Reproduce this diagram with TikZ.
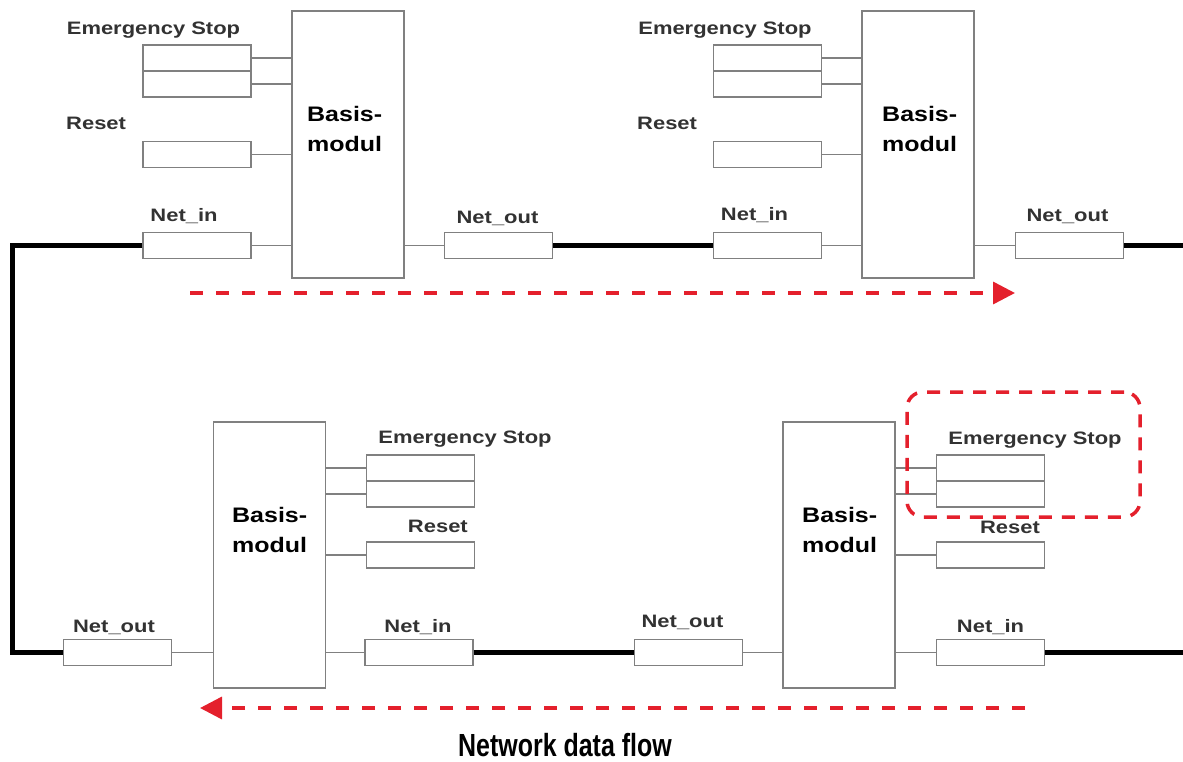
\documentclass[tikz,border=0pt]{standalone}
\usepackage{fontspec}
\usepackage{graphicx}
\setmainfont{Liberation Sans}
\usetikzlibrary{arrows.meta}
\definecolor{boxgray}{RGB}{128,128,128}
\definecolor{labelgray}{RGB}{50,50,50}
\definecolor{flowred}{RGB}{228,32,44}
\newcommand{\lblw}[1]{\scalebox{1.22}[1]{#1}}
\newcommand{\baw}[1]{\scalebox{1.19}[1]{#1}}
\begin{document}
\begin{tikzpicture}[x=1pt,y=-1pt,
  iobox/.style={draw=boxgray, line width=1.5pt, minimum width=108pt, minimum height=26pt, inner sep=0pt},
  basisbox/.style={draw=boxgray, line width=1.5pt, minimum width=112pt, minimum height=267pt, inner sep=0pt},
  lbl/.style={inner sep=0pt, anchor=base, text=labelgray, font=\fontsize{18}{22}\selectfont\bfseries},
  btxt/.style={inner sep=0pt, anchor=base west, font=\fontsize{21}{25}\selectfont\bfseries},
  wire/.style={draw=boxgray, line width=1.5pt},
  bus/.style={draw=black, line width=5pt, line join=miter},
  flow/.style={draw=flowred, line width=3.5pt, dash pattern=on 13pt off 13pt, -{Triangle[length=22pt,width=22pt]}},
  hilite/.style={draw=flowred, line width=3.5pt, dash pattern=on 13pt off 10pt, rounded corners=16pt, inner sep=0pt}
]
\useasboundingbox (0,0) rectangle (1183,762);

% ---------- Module A (top left) ----------
\node[basisbox] (bA) at (348,144.5) {};
\node[iobox] (esA1) at (197,58) {};
\node[iobox] (esA2) at (197,84) {};
\node[iobox] (rsA) at (197,154.5) {};
\node[iobox] (inA) at (197,245.5) {};
\node[iobox] (outA) at (498.5,245.5) {};
\node[lbl] (lesA) at (153.5,35) {\lblw{Emergency Stop}};
\node[lbl, anchor=base west] (lrsA) at (66,130) {\lblw{Reset}};
\node[lbl] (linA) at (184,222) {\lblw{Net\_in}};
\node[lbl] (loutA) at (497.5,223) {\lblw{Net\_out}};
\node[btxt] (tA1) at (307,122) {\baw{Basis-}};
\node[btxt] (tA2) at (307,152) {\baw{modul}};
\draw[wire] (esA1.east) -- (esA1.east -| bA.west);
\draw[wire] (esA2.east) -- (esA2.east -| bA.west);
\draw[wire] (rsA.east) -- (rsA.east -| bA.west);
\draw[wire] (inA.east) -- (inA.east -| bA.west);
\draw[wire] (outA.west -| bA.east) -- (outA.west);

% ---------- Module B (top right) ----------
\node[basisbox] (bB) at (918,144.5) {};
\node[iobox] (esB1) at (767.5,58) {};
\node[iobox] (esB2) at (767.5,84) {};
\node[iobox] (rsB) at (767.5,154.5) {};
\node[iobox] (inB) at (767.5,245.5) {};
\node[iobox] (outB) at (1069.5,245.5) {};
\node[lbl] (lesB) at (725,35) {\lblw{Emergency Stop}};
\node[lbl, anchor=base west] (lrsB) at (637,130) {\lblw{Reset}};
\node[lbl] (linB) at (754.5,221) {\lblw{Net\_in}};
\node[lbl] (loutB) at (1067.5,222) {\lblw{Net\_out}};
\node[btxt] (tB1) at (882,122) {\baw{Basis-}};
\node[btxt] (tB2) at (882,152) {\baw{modul}};
\draw[wire] (esB1.east) -- (esB1.east -| bB.west);
\draw[wire] (esB2.east) -- (esB2.east -| bB.west);
\draw[wire] (rsB.east) -- (rsB.east -| bB.west);
\draw[wire] (inB.east) -- (inB.east -| bB.west);
\draw[wire] (outB.west -| bB.east) -- (outB.west);

% ---------- Module C (bottom left) ----------
\node[basisbox, minimum height=266pt] (bC) at (269.5,555) {};
\node[iobox] (outC) at (117.5,652.5) {};
\node[iobox] (esC1) at (420.5,468) {};
\node[iobox] (esC2) at (420.5,494) {};
\node[iobox] (rsC) at (420.5,555) {};
\node[iobox] (inC) at (419,652.5) {};
\node[lbl] (lesC) at (465,443) {\lblw{Emergency Stop}};
\node[lbl, anchor=base east] (lrsC) at (468,532) {\lblw{Reset}};
\node[lbl] (linC) at (418,632) {\lblw{Net\_in}};
\node[lbl] (loutC) at (114,632) {\lblw{Net\_out}};
\node[btxt] (tC1) at (232,522) {\baw{Basis-}};
\node[btxt] (tC2) at (232,552) {\baw{modul}};
\draw[wire] (outC.east) -- (outC.east -| bC.west);
\draw[wire] (esC1.west -| bC.east) -- (esC1.west);
\draw[wire] (esC2.west -| bC.east) -- (esC2.west);
\draw[wire] (rsC.west -| bC.east) -- (rsC.west);
\draw[wire] (inC.west -| bC.east) -- (inC.west);

% ---------- Module D (bottom right) ----------
\node[basisbox, minimum height=266pt] (bD) at (839,555) {};
\node[iobox] (outD) at (688.5,652.5) {};
\node[iobox] (esD1) at (990.5,468) {};
\node[iobox] (esD2) at (990.5,494) {};
\node[iobox] (rsD) at (990.5,555) {};
\node[iobox] (inD) at (990.5,652.5) {};
\node[lbl] (lesD) at (1035,444) {\lblw{Emergency Stop}};
\node[lbl] (lrsD) at (1010,533) {\lblw{Reset}};
\node[lbl] (linD) at (990.5,632) {\lblw{Net\_in}};
\node[lbl] (loutD) at (682.5,627) {\lblw{Net\_out}};
\node[btxt] (tD1) at (802,522) {\baw{Basis-}};
\node[btxt] (tD2) at (802,552) {\baw{modul}};
\draw[wire] (outD.east) -- (outD.east -| bD.west);
\draw[wire] (esD1.west -| bD.east) -- (esD1.west);
\draw[wire] (esD2.west -| bD.east) -- (esD2.west);
\draw[wire] (rsD.west -| bD.east) -- (rsD.west);
\draw[wire] (inD.west -| bD.east) -- (inD.west);

% ---------- Network bus ----------
\coordinate (cornTL) at (12,245.5);
\coordinate (cornBL) at (12,652.5);
\coordinate (rightT) at (1185,245.5);
\coordinate (rightB) at (1185,652.5);
\draw[bus] (inA.west) -- (cornTL) -- (cornBL) -- (outC.west);
\draw[bus] (outA.east) -- (inB.west);
\draw[bus] (outB.east) -- (rightT);
\draw[bus] (inC.east) -- (outD.west);
\draw[bus] (inD.east) -- (rightB);

% ---------- Flow arrows ----------
\coordinate (fT0) at (190,293);
\coordinate (fT1) at (1015,293);
\coordinate (fB0) at (1025,708);
\coordinate (fB1) at (200,708);
\draw[flow] (fT0) -- (fT1);
\draw[flow] (fB0) -- (fB1);

% ---------- Highlight ----------
\node[hilite, minimum width=233pt, minimum height=125pt] (hl) at (1023.5,454.5) {};

% ---------- Caption ----------
\node[inner sep=0pt, anchor=base, font=\fontsize{32}{38}\selectfont\bfseries] (title) at (565,756) {\scalebox{0.78}[1]{Network data flow}};
\end{tikzpicture}
\end{document}
